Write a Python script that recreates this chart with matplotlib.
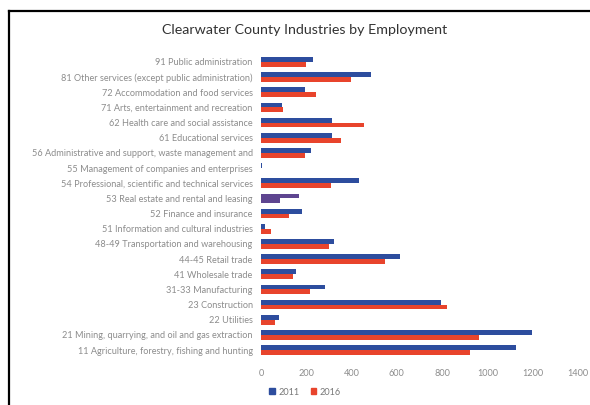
import numpy as np
import matplotlib
matplotlib.use("Agg")
import matplotlib.pyplot as plt
from matplotlib.lines import Line2D
from matplotlib.patches import Patch

# Industrias del condado, de arriba hacia abajo
industrias = [
    "91 Public administration",
    "81 Other services (except public administration)",
    "72 Accommodation and food services",
    "71 Arts, entertainment and recreation",
    "62 Health care and social assistance",
    "61 Educational services",
    "56 Administrative and support, waste management and",
    "55 Management of companies and enterprises",
    "54 Professional, scientific and technical services",
    "53 Real estate and rental and leasing",
    "52 Finance and insurance",
    "51 Information and cultural industries",
    "48-49 Transportation and warehousing",
    "44-45 Retail trade",
    "41 Wholesale trade",
    "31-33 Manufacturing",
    "23 Construction",
    "22 Utilities",
    "21 Mining, quarrying, and oil and gas extraction",
    "11 Agriculture, forestry, fishing and hunting",
]
empleo_2011 = [230, 486, 194, 93, 314, 314, 221, 3, 433, 168,
               181, 18, 322, 614, 155, 283, 795, 80, 1197, 1126]
empleo_2016 = [199, 398, 243, 97, 455, 353, 194, 0, 309, 84,
               124, 44, 300, 548, 141, 216, 822, 62, 963, 923]
ticks_x = [0, 200, 400, 600, 800, 1000, 1200, 1400]

azul = "#2d4d9e"
rojo = "#e8442c"
morado = "#5e4590"

plt.rcParams['font.family'] = ['Lato', 'DejaVu Sans']

fig = plt.figure(figsize=(5.9, 4.05), dpi=100)
ax = fig.add_axes([0.4424, 0.117, 0.537, 0.749])

y = np.arange(len(industrias))
alto = 0.32
col_a = [morado if i == 9 else azul for i in range(len(industrias))]
col_r = [morado if i == 9 else rojo for i in range(len(industrias))]
ax.barh(y - alto / 2, empleo_2011, height=alto, color=col_a)
ax.barh(y + alto / 2, empleo_2016, height=alto, color=col_r)

ax.set_xlim(0, 1400)
ax.set_ylim(len(industrias) - 0.5, -0.5)
ax.set_xticks(ticks_x)
ax.set_xticklabels([str(t) for t in ticks_x])
ax.set_yticks(y)
ax.set_yticklabels(industrias)
ax.tick_params(axis='both', length=0, colors='#8c8c8c', labelsize=6.6)
ax.tick_params(axis='y', pad=6)
ax.tick_params(axis='x', pad=8)
for s in ax.spines.values():
    s.set_visible(False)

fig.text(0.517, 0.926, "Clearwater County Industries by Employment",
         ha='center', va='center', fontsize=10.3, color='#333333')

# Leyenda abajo
handles = [Patch(color=azul, label="2011"), Patch(color=rojo, label="2016")]
fig.legend(handles=handles, loc='center', bbox_to_anchor=(0.517, 0.032), ncol=2,
           frameon=False, fontsize=6.6, handlelength=0.6, handleheight=0.6,
           handletextpad=0.4, columnspacing=1.2, labelcolor='#777777')

# Marco negro del grafico
fig.add_artist(Line2D([0.0153, 1.0], [0.973, 0.973], color='black', lw=1.6,
                      transform=fig.transFigure))
fig.add_artist(Line2D([0.0153, 0.0153], [0.0, 0.973], color='black', lw=1.6,
                      transform=fig.transFigure))

fig.savefig("out.png", dpi=100)
